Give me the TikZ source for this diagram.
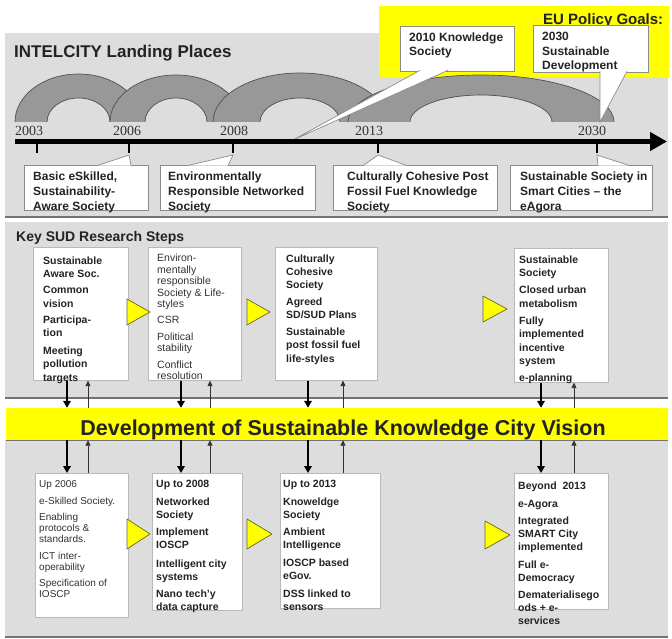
\documentclass[tikz,border=0pt]{standalone}
\usepackage{fontspec}
\setmainfont{Liberation Sans}
\newfontfamily\yearfont{Liberation Serif}
\usetikzlibrary{arrows.meta,calc}

\definecolor{panelgray}{RGB}{221,221,221}
\definecolor{panelline}{RGB}{115,115,115}
\definecolor{archgray}{RGB}{152,152,152}
\definecolor{archedge}{RGB}{80,80,80}
\definecolor{hiyellow}{RGB}{255,255,0}
\definecolor{triedge}{RGB}{105,105,35}
\definecolor{calloutedge}{RGB}{140,140,140}
\definecolor{stepedge}{RGB}{185,185,185}
\definecolor{inkdark}{RGB}{35,35,35}
\definecolor{inklight}{RGB}{50,50,50}

\tikzset{
  panel/.style={fill=panelgray, draw=none},
  panelrule/.style={draw=panelline, line width=1.6pt},
  archfill/.style={fill=archgray, even odd rule},
  archline/.style={draw=archedge, line width=0.7pt},
  timeline/.style={line width=5pt, -{Triangle[length=17pt,width=18pt]}},
  tickmark/.style={line width=2.6pt},
  yearlabel/.style={font=\yearfont\fontsize{14}{14}\selectfont, text=inklight, inner sep=0, anchor=base west},
  callout/.style={draw=calloutedge, fill=white, line width=0.7pt, inner sep=0, anchor=north west},
  wedge/.style={fill=white, draw=calloutedge, line width=0.7pt},
  callouttext/.style={font=\fontsize{12}{15}\selectfont\bfseries, text=inkdark, inner sep=0, anchor=north west, align=left},
  goaltext/.style={font=\fontsize{12}{14.5}\selectfont\bfseries, text=inkdark, inner sep=0, anchor=north west, align=left},
  heading/.style={font=\bfseries, text=inkdark, inner sep=0, anchor=base west},
  stepbox/.style={draw=stepedge, fill=white, line width=0.6pt, inner sep=0, anchor=north west},
  boldsteps/.style={font=\fontsize{10.5}{13.3}\selectfont\bfseries, text=inkdark, inner sep=0, anchor=north west, align=left},
  lightsteps/.style={font=\fontsize{10.5}{11.4}\selectfont, text=inklight, inner sep=0, anchor=north west, align=left},
  nexttri/.style={fill=hiyellow, draw=triedge, line width=0.7pt, line join=round},
  visionbar/.style={fill=hiyellow, draw=none, minimum width=662pt, minimum height=32pt, inner sep=0},
  bigarrow/.style={line width=2.4pt, -{Triangle[length=7pt,width=7.5pt]}},
  thinarrow/.style={line width=0.8pt, draw=inklight, -{Triangle[length=5.5pt,width=5pt]}},
}

% one grey arch band: centre x, base y, outer radii (x,y), inner radii (x,y)
\newcommand\archband[6]{%
  \begin{scope}
    \clip (#1-#3-2,#2) rectangle (#1+#3+2,#2-#4-2);
    \path[archfill] (#1,#2) ellipse[x radius=#3, y radius=#4]
                    (#1,#2) ellipse[x radius=#5, y radius=#6];
    \path[archline] (#1,#2) ellipse[x radius=#3, y radius=#4]
                    (#1,#2) ellipse[x radius=#5, y radius=#6];
  \end{scope}}

\begin{document}
\begin{tikzpicture}[x=1pt,y=-1pt]
\useasboundingbox (0,0) rectangle (672,639);
\fill[white] (0,0) rectangle (672,639);

% ---------- background panels ----------
\path[panel] (5,33) rectangle (668,217);
\draw[panelrule] (5,217) -- (668,217);
\path[panel] (5,222) rectangle (668,398);
\draw[panelrule] (5,398) -- (668,398);
\path[panel] (5,440) rectangle (668,637);
\draw[panelrule] (5,637) -- (668,637);

% ---------- policy goals area ----------
\fill[hiyellow] (379,6) rectangle (669,77);
\node[heading, font=\fontsize{15}{15}\selectfont\bfseries] (goals) at (543,25) {EU Policy Goals:};

% ---------- landing places ----------
\node[heading, font=\fontsize{17}{17}\selectfont\bfseries] (landing) at (14,58) {INTELCITY Landing Places};

\archband{78.5}{122}{63.5}{48}{31.5}{24}
\archband{176}{122}{66}{47}{31}{24}
\archband{300}{122}{87}{49}{40}{24}
\archband{481}{122}{133}{47}{71}{27}

% knowledge society call-out
\node[callout, minimum width=114pt, minimum height=45pt] (ks) at (400,26) {};
\coordinate (kstip) at (293,140);
\path[wedge] (420,70.3) -- (kstip) -- (448,70.3);
\node[callouttext] (kstext) at (409,33) {2010 Knowledge\\[-1pt]Society};

% sustainable development call-out
\node[callout, minimum width=115pt, minimum height=47pt] (sd) at (533,25) {};
\coordinate (sdtip) at (600,122);
\path[wedge] (600,71.3) -- (sdtip) -- (627,71.3);
\node[goaltext] (sdtext) at (542,32.4) {2030\\Sustainable\\Development};

% time line with ticks and years
\coordinate (tl0) at (15,141.5);
\coordinate (tl1) at (667,141.5);
\draw[timeline] (tl0) -- (tl1);
\foreach \x/\n in {37/a,129/b,233/c,378/d,597/e}{
  \draw[tickmark] (\x,143) -- (\x,153);
  \coordinate (tk\n) at (\x,155);
}
\node[yearlabel] (y2003) at (15,136) {2003};
\node[yearlabel] (y2006) at (113,136) {2006};
\node[yearlabel] (y2008) at (220,136) {2008};
\node[yearlabel] (y2013) at (355,136) {2013};
\node[yearlabel] (y2030) at (578,136) {2030};

% landing-place boxes below the time line
\node[callout, minimum width=124pt, minimum height=45pt] (lp1) at (24,165) {};
\node[callout, minimum width=155pt, minimum height=45pt] (lp2) at (160,165) {};
\node[callout, minimum width=164pt, minimum height=45pt] (lp3) at (333,165) {};
\node[callout, minimum width=142pt, minimum height=45pt] (lp4) at (510,165) {};
\path[wedge] (97,165.7) -- (tkb) -- (131,165.7);
\path[wedge] (187,165.7) -- (tkc) -- (228,165.7);
\path[wedge] (363,165.7) -- (tkd) -- (407,165.7);
\path[wedge] (598,165.7) -- (tke) -- (630,165.7);
\node[callouttext] (lp1t) at (33,171.5) {Basic eSkilled,\\Sustainability-\\Aware Society};
\node[callouttext] (lp2t) at (168,171.5) {Environmentally\\Responsible Networked\\Society};
\node[callouttext] (lp3t) at (347,171.5) {Culturally Cohesive Post\\Fossil Fuel Knowledge\\Society};
\node[callouttext] (lp4t) at (520,171.5) {Sustainable Society in\\Smart Cities -- the\\eAgora};

% ---------- key research steps ----------
\node[heading, font=\fontsize{14}{14}\selectfont\bfseries] (keysud) at (16,241.5) {Key SUD Research Steps};

\node[stepbox, minimum width=95pt, minimum height=133pt] (M1) at (33,247) {};
\node[stepbox, minimum width=93pt, minimum height=133pt] (M2) at (148,247) {};
\node[stepbox, minimum width=102pt, minimum height=133pt] (M3) at (275,247) {};
\node[stepbox, minimum width=94pt, minimum height=134pt] (M4) at (514,248) {};

\node[boldsteps] (M1t) at (43,256.4) {Sustainable\\Aware Soc.\\[3pt]Common\\vision\\[3pt]Participa-\\tion\\[4.5pt]Meeting\\pollution\\targets};
\node[lightsteps] (M2t) at (157,254) {Environ-\\mentally\\responsible\\Society \& Life-\\styles\\[5pt]CSR\\[5pt]Political\\stability\\[5pt]Conflict\\resolution};
\node[boldsteps] (M3t) at (286,254.5) {Culturally\\Cohesive\\Society\\[3.3pt]Agreed\\SD/SUD Plans\\[3.3pt]Sustainable\\post fossil fuel\\life-styles};
\node[boldsteps] (M4t) at (519,255.5) {Sustainable\\Society\\[4pt]Closed urban\\metabolism\\[4pt]Fully\\implemented\\incentive\\system\\[4pt]e-planning};

\draw[nexttri] (127,299) -- (150,312) -- (127,325) -- cycle;
\draw[nexttri] (247,299) -- (270,312) -- (247,325) -- cycle;
\draw[nexttri] (483,296) -- (507,309) -- (483,322) -- cycle;

% ---------- vision bar ----------
\node[visionbar] (bar) at (337,424) {};
\draw[panelline, line width=1pt] (bar.south west) -- (bar.south east);
\node[font=\fontsize{21.5}{21.5}\selectfont\bfseries, text=inkdark, inner sep=0, anchor=base] (vision) at (343,435) {Development of Sustainable Knowledge City Vision};

% ---------- development stages ----------
\node[stepbox, minimum width=93pt, minimum height=144pt] (L1) at (35,473) {};
\node[stepbox, minimum width=90pt, minimum height=137pt] (L2) at (152,473) {};
\node[stepbox, minimum width=100pt, minimum height=135pt] (L3) at (280,473) {};
\node[stepbox, minimum width=94pt, minimum height=136pt] (L4) at (514,473) {};

\node[lightsteps, font=\fontsize{10}{11}\selectfont] (L1t) at (39,480.8) {Up 2006\\[5.5pt]e-Skilled Society.\\[5pt]Enabling\\protocols \&\\standards.\\[6pt]ICT inter-\\operability\\[5.5pt]Specification of\\IOSCP};
\node[boldsteps, font=\fontsize{10.5}{13}\selectfont\bfseries] (L2t) at (156,480.4) {Up to 2008\\[4.5pt]Networked\\Society\\[4.5pt]Implement\\IOSCP\\[5.5pt]Intelligent city\\systems\\[4pt]Nano tech'y\\data capture};
\node[boldsteps, font=\fontsize{10.5}{13}\selectfont\bfseries] (L3t) at (283,480.4) {Up to 2013\\[4.5pt]Knoweldge\\Society\\[4.5pt]Ambient\\Intelligence\\[5pt]IOSCP based\\eGov.\\[5pt]DSS linked to\\sensors};
\node[boldsteps, font=\fontsize{10.5}{13}\selectfont\bfseries] (L4t) at (518,482) {Beyond~ 2013\\[4.5pt]e-Agora\\[4.5pt]Integrated\\SMART City\\implemented\\[4.5pt]Full e-\\Democracy\\[4.5pt]Dematerialisego\\ods + e-\\services};

\draw[nexttri] (127,519) -- (150,534) -- (127,549) -- cycle;
\draw[nexttri] (247,519) -- (272,534) -- (247,549) -- cycle;
\draw[nexttri] (485,521) -- (510,535) -- (485,549) -- cycle;

% ---------- links between steps and the vision ----------
\foreach \i/\k/\t in {1/67/88, 2/181/210, 3/308/343, 4/541/574}{
  \coordinate (k\i) at (\k,0);
  \coordinate (t\i) at (\t,0);
  \draw[bigarrow] (M\i.south -| k\i) -- (bar.north -| k\i);
  \draw[thinarrow] (bar.north -| t\i) -- (M\i.south -| t\i);
  \draw[bigarrow] (bar.south -| k\i) -- (L\i.north -| k\i);
  \draw[thinarrow] (L\i.north -| t\i) -- (bar.south -| t\i);
}
\end{tikzpicture}
\end{document}
